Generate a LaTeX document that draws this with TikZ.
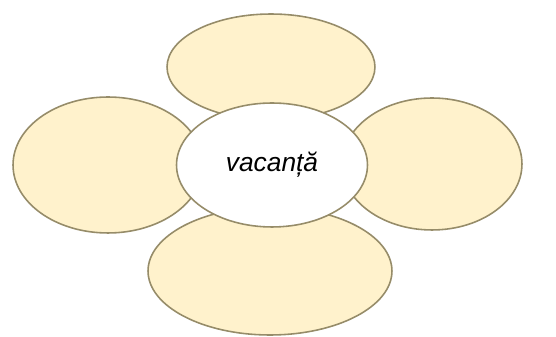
\documentclass[tikz,border=0pt]{standalone}
\usepackage{fontspec}
\setmainfont{Liberation Sans}
\usepackage{xcolor}
\definecolor{petalfill}{RGB}{255,242,204}
\definecolor{petaledge}{RGB}{150,140,105}
\usepackage{tikz}
\usetikzlibrary{shapes.geometric, positioning}

\tikzset{
  petal/.style={ellipse, draw=petaledge, fill=petalfill, line width=0.9pt, inner sep=0pt},
  heart/.style={ellipse, draw=petaledge, fill=white, line width=0.9pt, inner sep=0pt,
    font=\fontsize{15}{18}\selectfont\itshape}
}

\begin{document}
\begin{tikzpicture}[x=0.02cm, y=0.02cm]
  % Frame of the picture
  \useasboundingbox (0,0) rectangle (556,-337);

  % --- Petals ---
  \node[petal, minimum width=3.8cm, minimum height=2.72cm] (left)  at (108,-165) {};
  \node[petal, minimum width=3.6cm, minimum height=2.64cm] (right) at (432,-164) {};
  \node[petal, minimum width=4.16cm, minimum height=2.12cm] (top)  at (271,-67) {};
  \node[petal, minimum width=4.88cm, minimum height=2.56cm] (bottom) at (270,-271) {};

  % --- Centre ---
  \node[heart, minimum width=3.82cm, minimum height=2.48cm] (centre) at (272,-165) {vacanță};
\end{tikzpicture}
\end{document}
